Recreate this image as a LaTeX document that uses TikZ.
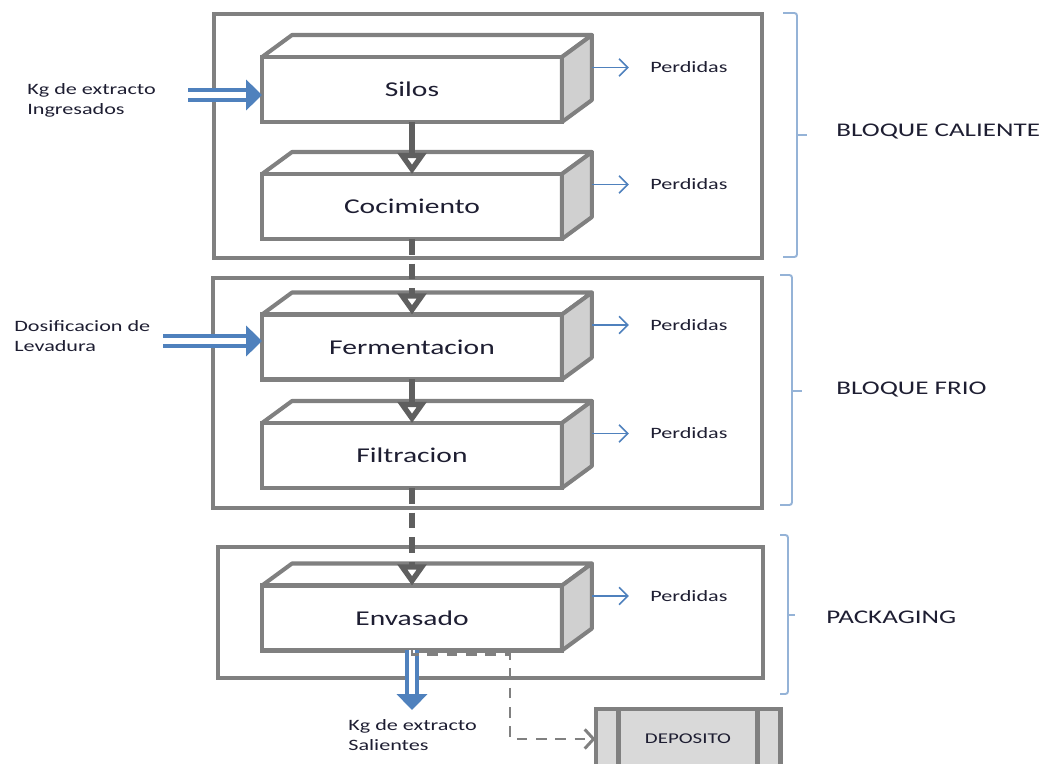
\documentclass[tikz,border=0pt]{standalone}
\usepackage{fontspec}
\setmainfont{Carlito}[FakeStretch=1.4]
\usetikzlibrary{arrows.meta,positioning,calc}

\definecolor{framegray}{RGB}{128,128,128}
\definecolor{flowgray}{RGB}{95,95,95}
\definecolor{sidegray}{RGB}{208,208,208}
\definecolor{depotgray}{RGB}{217,217,217}
\definecolor{flowblue}{RGB}{79,129,189}
\definecolor{bracketblue}{RGB}{149,179,215}
\definecolor{txt}{RGB}{30,30,50}

\tikzset{
  block/.style={draw=framegray, line width=2.3pt},
  proc/.style={draw=framegray, line width=2.3pt, fill=white, outer sep=0pt,
    minimum width=6cm, minimum height=1.3cm, text=txt, font=\fontsize{12}{14}\selectfont},
  face/.style={draw=framegray, line width=2.3pt, line join=round},
  flow/.style={draw=flowgray, line width=3pt, -{Triangle[open,length=12pt,width=16pt]}},
  flowdash/.style={flow, dash pattern=on 9pt off 5pt},
  loss/.style={draw=flowblue, line width=0.9pt, -{Straight Barb[length=5pt,width=10pt]}},
  feed/.style={draw=flowblue, line width=2.3pt, double=white, double distance=3.2pt,
    -{Triangle[length=9pt,width=17pt]}},
  storage/.style={draw=framegray, line width=1.7pt, dash pattern=on 6pt off 5pt,
    -{Straight Barb[length=5pt,width=11pt]}},
  small/.style={font=\fontsize{9}{11.3}\selectfont, text=txt, inner sep=0pt, align=left},
  perd/.style={small, inner xsep=12pt},
  depot/.style={draw=framegray, line width=2.3pt, fill=depotgray, outer sep=0pt,
    minimum width=3.7cm, minimum height=1.2cm, text=txt, font=\fontsize{8.5}{10}\selectfont},
  bracket/.style={draw=bracketblue, line width=1.1pt, rounded corners=1.5pt},
  blocklabel/.style={font=\fontsize{11}{13}\selectfont, text=txt, anchor=west, inner sep=0pt},
}

% top and side faces of a process box
\newcommand{\boxfaces}[1]{%
  \draw[face] (#1.north west) -- ++(30,-22) -- ($(#1.north east)+(30,-22)$) -- (#1.north east);
  \draw[face, fill=sidegray] (#1.north east) -- ++(30,-22) -- ($(#1.south east)+(30,-22)$)
    -- (#1.south east) -- cycle;
  \coordinate (#1-out) at ($(#1.east)+(30,-22)$);
}

\begin{document}
\begin{tikzpicture}[x=0.02cm,y=-0.02cm]
\useasboundingbox (0,0) rectangle (1063,764);
\clip (0,0) rectangle (1063,764);

% blocks
\draw[block] (214,14) rectangle (762,258);
\draw[block] (213,278) rectangle (762,508);
\draw[block] (218,547) rectangle (763,678);

% process boxes
\node[proc] (silos) at (412,89.5) {Silos};
\boxfaces{silos}
\node[proc] (cocimiento) at (412,206.5) {Cocimiento};
\boxfaces{cocimiento}
\node[proc] (ferment) at (412,347) {Fermentacion};
\boxfaces{ferment}
\node[proc] (filtra) at (412,455.5) {Filtracion};
\boxfaces{filtra}
\node[proc] (envasado) at (412,618) {Envasado};
\boxfaces{envasado}

% flow
\draw[flow] (silos) -- (cocimiento);
\draw[flowdash] (cocimiento) -- (ferment);
\draw[flow] (ferment) -- (filtra);
\draw[flowdash] (filtra) -- (envasado);

% losses
\node[perd, right=0.74cm of silos-out] (loss1) {Perdidas};
\node[perd, right=0.74cm of cocimiento-out] (loss2) {Perdidas};
\node[perd, right=0.74cm of ferment-out] (loss3) {Perdidas};
\node[perd, right=0.74cm of filtra-out] (loss4) {Perdidas};
\node[perd, right=0.74cm of envasado-out] (loss5) {Perdidas};
\draw[loss] (silos-out) -- (loss1);
\draw[loss] (cocimiento-out) -- (loss2);
\draw[loss] (ferment-out) -- (loss3);
\draw[loss] (filtra-out) -- (loss4);
\draw[loss] (envasado-out) -- (loss5);

% inputs and output
\node[small, anchor=west] (kgin) at (27,100) {Kg de extracto\\Ingresados};
\coordinate (kgin-tail) at (188,95);
\draw[feed] (kgin-tail) -- (silos.west |- kgin-tail);
\node[small, anchor=west] (dosif) at (14,336) {Dosificacion de\\Levadura};
\coordinate (dosif-tail) at (163,341);
\draw[feed] (dosif-tail) -- (ferment.west |- dosif-tail);
\coordinate (kgout-tip) at (412,710);
\draw[feed] (envasado.south) -- (kgout-tip);
\node[small, anchor=north west] (kgout) at (348,719) {Kg de extracto\\Salientes};

% deposito
\node[depot] (deposito) at (688,739) {DEPOSITO};
\draw[framegray, line width=2.3pt] ([xshift=0.46cm]deposito.north west) -- ([xshift=0.46cm]deposito.south west);
\draw[framegray, line width=2.3pt] ([xshift=-0.46cm]deposito.north east) -- ([xshift=-0.46cm]deposito.south east);
\draw[storage] (envasado.south) -- ++(0,4) -- ++(98,0) |- (deposito.west);

% brackets
\draw[bracket] (783,13) -- (797,13) -- (797,257) -- (783,257);
\draw[bracket] (797,135) -- (807,135);
\node[blocklabel] (hot) at (836,132) {BLOQUE CALIENTE};
\draw[bracket] (780,275) -- (792,275) -- (792,505) -- (780,505);
\draw[bracket] (792,391) -- (802,391);
\node[blocklabel] (cold) at (836,390) {BLOQUE FRIO};
\draw[bracket] (780,535) -- (788,535) -- (788,694) -- (780,694);
\draw[bracket] (788,615) -- (795,615);
\node[blocklabel] (pack) at (826,617) {PACKAGING};
\end{tikzpicture}
\end{document}
